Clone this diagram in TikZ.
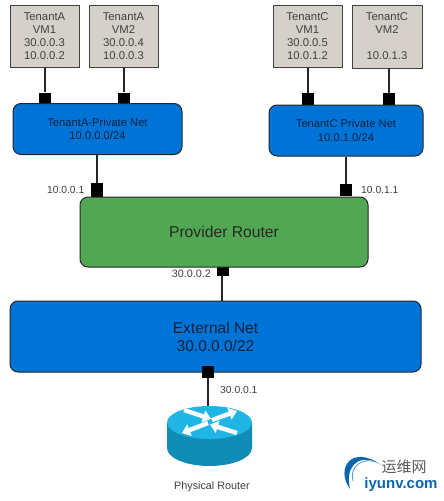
\documentclass[tikz,border=0pt]{standalone}
\usetikzlibrary{arrows.meta}
\usepackage{fontspec}
\setmainfont{Liberation Sans}
\newfontfamily\cjkf{Noto Sans CJK SC}
\definecolor{netblue}{HTML}{0074D6}
\definecolor{provgreen}{HTML}{52A852}
\definecolor{vmgrey}{HTML}{D5D1CA}
\definecolor{txtgrey}{HTML}{404040}
\definecolor{rtop}{HTML}{1FB6E6}
\definecolor{rside}{HTML}{0F8DB5}
\definecolor{logoblue}{HTML}{0A66AE}
\tikzset{
  x=1pt,y=-1pt,
  vmbox/.style={draw=black!75,line width=1pt,fill=vmgrey,minimum width=69pt,minimum height=62pt,align=center,font=\fontsize{11.3}{13}\selectfont,text=txtgrey,inner sep=0pt},
  netbox/.style={draw=black!85,line width=1pt,fill=netblue,rounded corners=8pt,align=center,inner sep=0pt,text=black!70!netblue},
  port/.style={fill=black,minimum width=12.5pt,minimum height=12pt,inner sep=0pt},
  wire/.style={line width=1.2pt,draw=black!85},
  addr/.style={font=\fontsize{10.3}{12}\selectfont,text=txtgrey,inner sep=0pt},
  rarrow/.style={white,line width=4.4pt,-{Triangle[width=12pt,length=8pt]}},
}
\begin{document}
\begin{tikzpicture}
\useasboundingbox (0,0) rectangle (444,501);
% VMs
\node[vmbox] (a1) at (44.5,36) {TenantA\\VM1\\30.0.0.3\\10.0.0.2};
\node[vmbox] (a2) at (123.5,36.5) {TenantA\\VM2\\30.0.0.4\\10.0.0.3};
\node[vmbox] (c1) at (307.5,36) {TenantC\\VM1\\30.0.0.5\\10.0.1.2};
\node[vmbox,minimum width=70pt,minimum height=63pt] (c2) at (387,36.5) {TenantC\\VM2\\\mbox{}\\10.0.1.3};
% Ports
\node[port] (pa1) at (45,98.5) {};
\node[port] (pa2) at (124,98.5) {};
\node[port] (pc1) at (308,99) {};
\node[port] (pc2) at (389,99) {};
\node[port,minimum height=14pt] (pa) at (97,190) {};
\node[port] (pc) at (346,190) {};
\node[port,minimum height=9pt] (pp) at (223,271) {};
\node[port] (pe) at (208,372) {};
% Wires
\draw[wire] (a1.south -| pa1) -- (pa1);
\draw[wire] (a2.south -| pa2) -- (pa2);
\draw[wire] (c1.south -| pc1) -- (pc1);
\draw[wire] (c2.south -| pc2) -- (pc2);
% Nets
\node[netbox,minimum width=169pt,minimum height=51pt,font=\fontsize{11.2}{13.3}\selectfont] (na) at (97.5,129) {TenantA-Private Net\\10.0.0.0/24};
\node[netbox,minimum width=154pt,minimum height=51pt,font=\fontsize{11.2}{13.3}\selectfont] (nc) at (346,130.5) {TenantC Private Net\\10.0.1.0/24};
\node[netbox,fill=provgreen,text=black!85,minimum width=288pt,minimum height=70pt,font=\fontsize{15.7}{18}\selectfont] (prov) at (224,232) {Provider Router};
\node[netbox,minimum width=411pt,minimum height=71pt,font=\fontsize{15.5}{18}\selectfont] (ext) at (215.5,336.5) {External Net\\30.0.0.0/22};
\node[port] at (pe) {};
% Net-to-router wires
\draw[wire] (na.south -| pa) -- (pa);
\draw[wire] (nc.south -| pc) -- (pc);
\draw[wire] (222,275) -- (222,301);
% Router icon
\coordinate (rt) at (209.5,422.5);
\coordinate (rtip) at (208,406);
\fill[rside] (167,422.5) -- (167,448) arc[start angle=180,end angle=360,x radius=42.5,y radius=-18] -- (252,422.5) -- cycle;
\fill[rtop] (rt) ellipse[x radius=42.5,y radius=16.5];
\draw[wire] (pe) -- (rtip);
\draw[rarrow] (184,410) -- (211,419);
\draw[rarrow] (212,420) -- (237,411);
\draw[rarrow] (208,423) -- (182,433);
\draw[rarrow] (237,433) -- (210,424.5);
% Labels
\node[addr,anchor=east] (l1) at (84.5,190) {10.0.0.1};
\node[addr,anchor=west] (l2) at (361,190) {10.0.1.1};
\node[addr,anchor=east,font=\fontsize{10.8}{12}\selectfont] (l3) at (211,274) {30.0.0.2};
\node[addr,anchor=west] (l4) at (220,390) {30.0.0.1};
\node[font=\fontsize{10.8}{12}\selectfont,text=txtgrey,inner sep=0pt] (pr) at (212,487) {Physical Router};
% Watermark
\fill[logoblue] (350,489) .. controls (335,468) and (352,444) .. (381,465) .. controls (362,452) and (344,464) .. (350,489) -- cycle;
\draw[logoblue!70,line width=0.8pt] (353,481) .. controls (349,467) and (362,457) .. (376,462);
\node[font=\cjkf\fontsize{15}{15}\selectfont,text=black!65,inner sep=0pt] (w1) at (404,467) {运维网};
\node[font=\bfseries\fontsize{15}{15}\selectfont,text=logoblue,inner sep=0pt] (w2) at (401,485) {iyunv.com};
\end{tikzpicture}
\end{document}
